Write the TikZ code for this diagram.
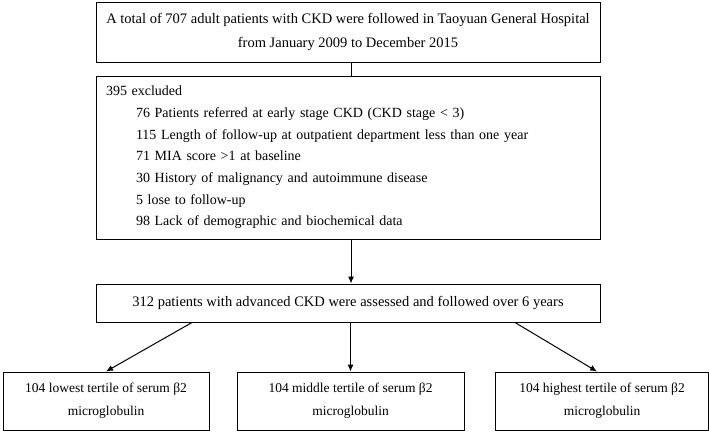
\documentclass[tikz,border=0pt]{standalone}
\usepackage{fontspec}
\setmainfont{Liberation Serif}
\usetikzlibrary{arrows.meta}
\tikzset{
  box/.style={draw, line width=1pt, inner sep=0pt, align=center, font=\fontsize{14.5}{22}\selectfont},
  group/.style={box, minimum height=58pt, font=\fontsize{13.5}{23}\selectfont},
  conn/.style={line width=1pt},
  arr/.style={conn, -{Latex[length=7pt,width=6pt]}}
}
\begin{document}
\begin{tikzpicture}[x=1pt,y=-1pt]
\useasboundingbox (0,0) rectangle (709,431);

\node[box, minimum width=504pt, minimum height=60pt, font=\fontsize{14.5}{24}\selectfont] (total) at (348,32)
  {A total of 707 adult patients with CKD were followed in Taoyuan General Hospital\\
   from January 2009 to December 2015};

\node[box, minimum width=504pt, minimum height=163pt, text width=484pt, align=left, font=\fontsize{14}{21.7}\selectfont] (excl) at (348,157.5)
  {395 excluded\\
   \hspace*{30pt}76 Patients referred at early stage CKD (CKD stage < 3)\\
   \hspace*{30pt}115 Length of follow-up at outpatient department less than one year\\
   \hspace*{30pt}71 MIA score >1 at baseline\\
   \hspace*{30pt}30 History of malignancy and autoimmune disease\\
   \hspace*{30pt}5 lose to follow-up\\
   \hspace*{30pt}98 Lack of demographic and biochemical data};

\node[box, minimum width=504pt, minimum height=38pt] (adv) at (348,303)
  {312 patients with advanced CKD were assessed and followed over 6 years};

\node[group, minimum width=206pt] (low) at (106,401)
  {104 lowest tertile of serum β2\\ microglobulin};
\node[group, minimum width=227pt] (mid) at (350.5,401)
  {104 middle tertile of serum β2\\ microglobulin};
\node[group, minimum width=213pt] (high) at (602,401)
  {104 highest tertile of serum β2\\ microglobulin};

\draw[conn] (total.south -| 351,0) -- (excl.north -| 351,0);
\draw[arr] (excl.south -| 351,0) -- (adv.north -| 351,0);
\draw[arr] ([xshift=-156pt]adv.south) -- (low.north);
\draw[arr] (adv.south -| mid.north) -- (mid.north);
\draw[arr] ([xshift=167pt]adv.south) -- ([xshift=-5pt]high.north);
\end{tikzpicture}
\end{document}
